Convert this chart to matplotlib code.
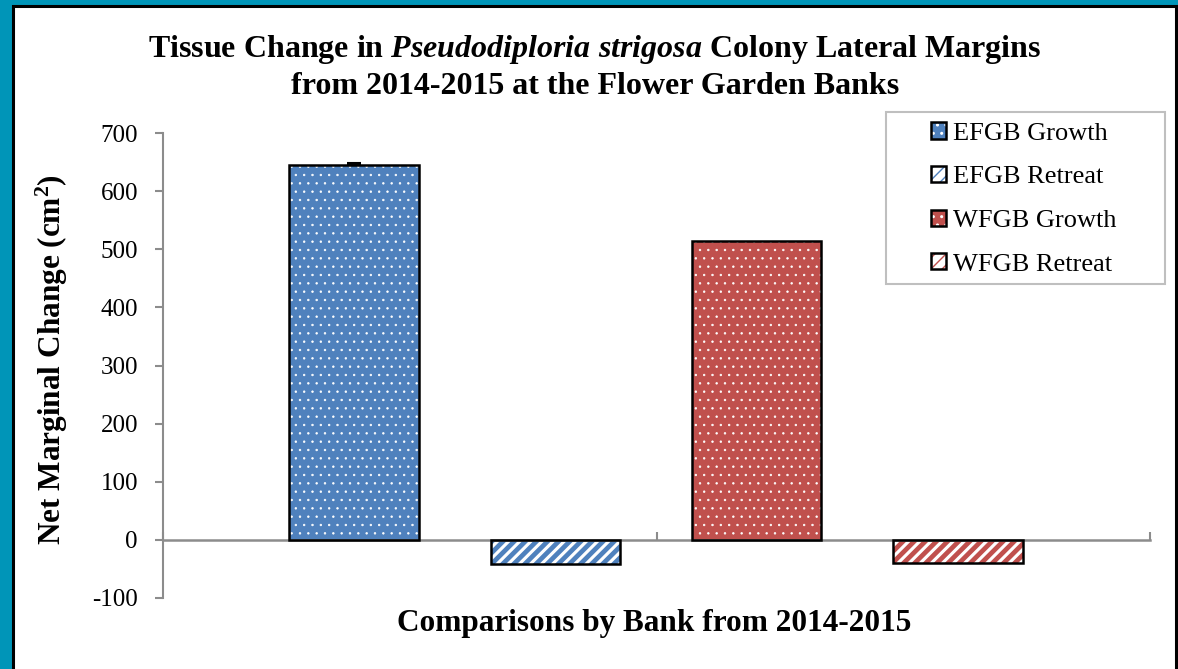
import matplotlib
matplotlib.use("Agg")
import matplotlib.pyplot as plt
from matplotlib.patches import Patch, Rectangle
from matplotlib.legend_handler import HandlerTuple
import numpy as np

plt.rcParams['font.family'] = ['Liberation Serif', 'DejaVu Serif']
plt.rcParams['mathtext.fontset'] = 'custom'
plt.rcParams['mathtext.it'] = 'Liberation Serif:italic:bold'
plt.rcParams['mathtext.bf'] = 'Liberation Serif:bold'
plt.rcParams['mathtext.rm'] = 'Liberation Serif:bold'
plt.rcParams['axes.unicode_minus'] = False

# data
series = ['EFGB Growth', 'EFGB Retreat', 'WFGB Growth', 'WFGB Retreat']
values = [645, -41, 515, -39]
errors = [4, 0, 0, 0]
colors = ['#4F81BD', '#4F81BD', '#C0504D', '#C0504D']
kinds = ['growth', 'retreat', 'growth', 'retreat']
yticks = [-100, 0, 100, 200, 300, 400, 500, 600, 700]

teal = '#0095B8'
gray = '#8C8C8C'
dot_lw = 0.5
stripe_lw = 3.4


def fill_patch_kw(c, k):
    if k == 'growth':
        return dict(facecolor=c, edgecolor='white', hatch='..'), dot_lw
    return dict(facecolor='white', edgecolor=c, hatch='///'), stripe_lw


fig = plt.figure(figsize=(11.78, 6.69), dpi=100, facecolor=teal)
W, H = 1178, 669
# white panel with black frame
fig.patches.append(Rectangle((13 / W, -0.05), (1176 - 13) / W, 1.05 - 6 / H,
                             transform=fig.transFigure, facecolor='white',
                             edgecolor='black', linewidth=2.2, zorder=-1))

ax = fig.add_axes([163 / W, 1 - 598 / H, (1150 - 163) / W, (598 - 133) / H])
ax.set_facecolor('none')
ax.set_zorder(1)

# bars: 4 series spread over 2 bank slots
pos = 0.387 + 0.408 * np.arange(len(values))
width = 0.262
for x, v, e, c, k in zip(pos, values, errors, colors, kinds):
    kw, hlw = fill_patch_kw(c, k)
    with plt.rc_context({'hatch.linewidth': hlw}):
        ax.bar(x, v, width, linewidth=0, zorder=2, **kw)
    ax.bar(x, v, width, fill=False, edgecolor='black', linewidth=1.8, zorder=3)
    if e > 0:
        ax.errorbar(x, v, yerr=[[0], [e]], color='black', capsize=5, capthick=1.5,
                    elinewidth=1.2, zorder=4)

ax.set_xlim(0, 2)
ax.set_ylim(-100, 700)
ax.set_yticks(yticks)
ax.tick_params(axis='y', colors=gray, labelcolor='black', labelsize=18,
               length=6, width=1.5, direction='out', pad=12)
ax.spines['left'].set_color(gray)
ax.spines['left'].set_linewidth(1.5)
ax.spines['bottom'].set_position(('data', 0))
ax.spines['bottom'].set_color(gray)
ax.spines['bottom'].set_linewidth(1.8)
ax.spines['right'].set_visible(False)
ax.spines['top'].set_visible(False)
ax.set_xticks([0, 1, 2])
ax.set_xticklabels([])
ax.tick_params(axis='x', colors=gray, length=6, width=1.5, direction='in')

fig.text(0.505, 1 - 50 / H,
         r'Tissue Change in $\mathit{Pseudodiploria\ strigosa}$ Colony Lateral Margins',
         ha='center', va='center', fontsize=23, fontweight='bold')
fig.text(0.505, 1 - 87 / H, 'from 2014-2015 at the Flower Garden Banks',
         ha='center', va='center', fontsize=23, fontweight='bold')
fig.text(52 / W, 1 - 360 / H, r'Net Marginal Change (cm$^{\mathbf{2}}$)',
         rotation=90, ha='center', va='center', fontsize=22.5, fontweight='bold')
fig.text(654 / W, 1 - 623 / H, 'Comparisons by Bank from 2014-2015',
         ha='center', va='center', fontsize=22.5, fontweight='bold')

# legend with its own frame
fig.patches.append(Rectangle((886 / W, 1 - 284 / H), (1165 - 886) / W, (284 - 112) / H,
                             transform=fig.transFigure, facecolor='white',
                             edgecolor='#BFBFBF', linewidth=1.5, zorder=5))
handles = []
for s, c, k in zip(series, colors, kinds):
    kw, hlw = fill_patch_kw(c, k)
    with plt.rc_context({'hatch.linewidth': hlw}):
        fill = Patch(linewidth=0, **kw)
    edge = Patch(fill=False, edgecolor='black', linewidth=1.8)
    handles.append((fill, edge))
leg = fig.legend(handles=handles, labels=series, loc='center',
                 bbox_to_anchor=(1024 / W, 1 - 199 / H),
                 handler_map={tuple: HandlerTuple(ndivide=1, pad=0)},
                 frameon=False, fontsize=19, handlelength=0.57, handleheight=0.57,
                 handletextpad=0.25, labelspacing=0.8)
leg.set_zorder(6)

fig.savefig('out.png', dpi=100, facecolor=teal)
